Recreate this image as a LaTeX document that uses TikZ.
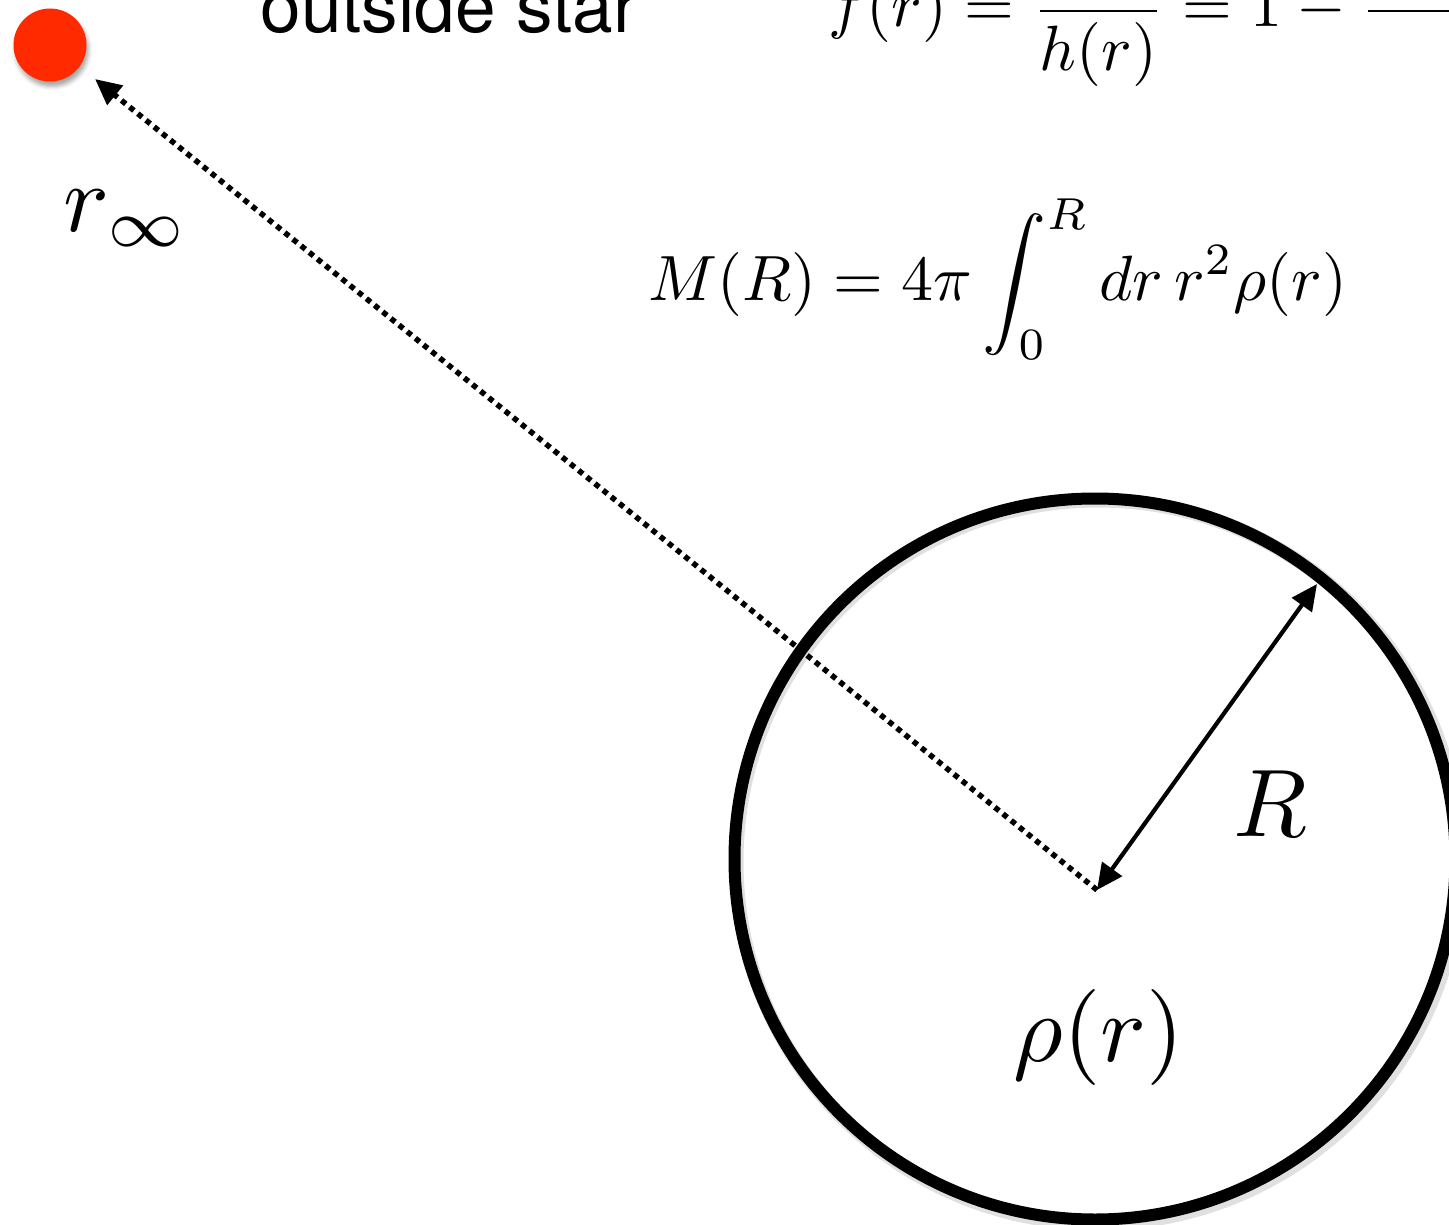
\documentclass[tikz,border=0pt]{standalone}
\usepackage{fontspec}
\newfontfamily\labelsans{TeX Gyre Heros}
\usetikzlibrary{arrows.meta,shadows.blur}
\definecolor{dotred}{RGB}{255,42,0}
\begin{document}
\begin{tikzpicture}[x=1pt,y=-1pt,
  bigmath/.style={inner sep=0pt, scale=9.6},
  midmath/.style={inner sep=0pt, scale=6.4},
  sanslabel/.style={inner sep=0pt, scale=7.3, font=\labelsans},
  radiusarrow/.style={line width=4.2pt, {Triangle[length=26pt,width=24pt]}-{Triangle[length=26pt,width=24pt]}},
  dotarrow/.style={line width=5.5pt, dash pattern=on 5.5pt off 5pt, -{Triangle[length=26pt,width=24pt]}},
  ring/.style={circle, draw, line width=12pt, minimum size=721pt, inner sep=0pt},
  ringshadow/.style={circle, draw=black!35, opacity=0.35, line width=14pt, minimum size=723pt, inner sep=0pt},
  particle/.style={circle, fill=dotred, minimum size=73pt, inner sep=0pt,
     blur shadow={shadow xshift=2pt, shadow yshift=-5pt, shadow blur radius=4pt, shadow opacity=35}}
]
\useasboundingbox (0,0) rectangle (1449,1225);
\clip (0,0) rectangle (1449,1225);

% star
\node[ringshadow] (starshadow) at (1098,862) {};
\node[ring] (star) at (1095,859) {};
\coordinate (center) at (1097,890);
\coordinate (edge) at (1317,584);

% test particle
\node[particle] (dot) at (50,45) {};
\coordinate (tipinf) at (95,79);

% connectors
\draw[dotarrow] (center) -- (tipinf);
\draw[radiusarrow] (center) -- (edge);

% labels
\node[sanslabel, anchor=base west] (outside) at (259,33) {outside star};
\node[midmath, anchor=base west] (feq) at (827,27) {$\displaystyle f(r)=\frac{1}{h(r)}=1-\frac{2GM(r)}{r}$};
\node[midmath, anchor=base west] (mass) at (647,301) {$\displaystyle M(R)=4\pi\int_0^R dr\,r^2\rho(r)$};
\node[bigmath, anchor=base west] (rinf) at (62,232) {$r_\infty$};
\node[bigmath, anchor=base west] (rlabel) at (1232,836) {$R$};
\node[bigmath, anchor=base west] (rho) at (1012,1061) {$\rho(r)$};
\end{tikzpicture}
\end{document}
